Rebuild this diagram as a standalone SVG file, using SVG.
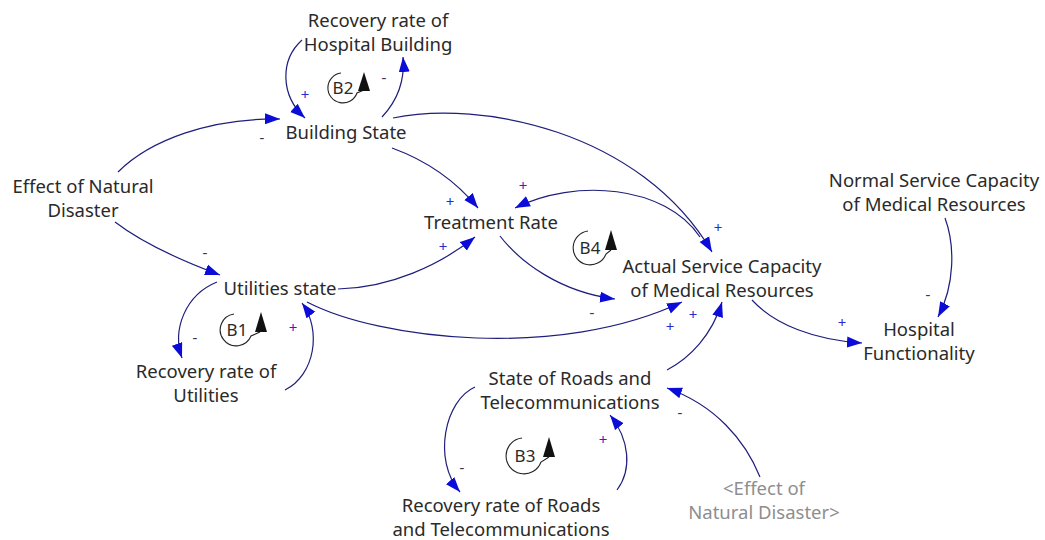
<svg xmlns="http://www.w3.org/2000/svg" width="1045" height="540" viewBox="0 0 1045 540">
<defs>
<style>
.lbl{font-family:"Noto Sans","Open Sans",sans-serif;font-size:18.5px;fill:#2a2a2a;text-anchor:middle}
.shd{fill:#8e8e8e}
.lnk{fill:none;stroke:#1e1e7c;stroke-width:1.2;marker-end:url(#ah)}
.pol{font-family:"Noto Sans","Open Sans",sans-serif;font-size:15px;text-anchor:middle}
.pos{fill:#2a2ad0}
.neg{fill:#333355}
.lp path{fill:none;stroke:#222;stroke-width:1.1}
.lp polygon{fill:#111}
.lp text{font-family:"Noto Sans","Open Sans",sans-serif;font-size:17px;fill:#2a2a2a;text-anchor:middle}
</style>
<marker id="ah" markerUnits="userSpaceOnUse" markerWidth="16" markerHeight="12" refX="15" refY="6" orient="auto">
<path d="M0,0.5 L15,6 L0,11.5 z" fill="#0c0cd8"/>
</marker>
</defs>
<rect width="1045" height="540" fill="#ffffff"/>

<g id="connectors">
<path class="lnk" d="M302,40 C280,60 280,95 305,118"/>
<path class="lnk" d="M382,117 C398,100 405,80 403,57"/>
<path class="lnk" d="M118,172 C150,140 210,118 280,119"/>
<path class="lnk" d="M392,148 C425,160 455,180 478,208"/>
<path class="lnk" d="M393,118 C480,100 640,130 712,252"/>
<path class="lnk" d="M700,237 C665,185 575,178 515,208"/>
<path class="lnk" d="M500,236 C520,262 560,292 615,299"/>
<path class="lnk" d="M338,289 C390,288 440,265 475,237"/>
<path class="lnk" d="M307,302 C380,340 560,360 682,302"/>
<path class="lnk" d="M667,370 C690,358 712,335 722,302"/>
<path class="lnk" d="M752,300 C775,325 815,340 862,343"/>
<path class="lnk" d="M945,218 C955,245 955,285 938,317"/>
<path class="lnk" d="M115,222 C145,245 185,262 220,275"/>
<path class="lnk" d="M217,282 C185,295 172,330 182,358"/>
<path class="lnk" d="M285,390 C315,375 322,330 302,303"/>
<path class="lnk" d="M475,387 C445,400 432,460 460,492"/>
<path class="lnk" d="M617,490 C632,470 630,440 610,415"/>
<path class="lnk" d="M760,477 C745,440 715,405 667,388"/>
</g>

<g id="polarities" class="pol">
<text class="pos" x="305" y="100">+</text>
<text class="neg" x="384" y="83">-</text>
<text class="neg" x="262" y="143">-</text>
<text class="pos" x="450" y="207">+</text>
<text class="pos" x="718" y="233">+</text>
<text class="pos" x="523" y="191">+</text>
<text class="neg" x="592" y="318">-</text>
<text class="pos" x="443" y="252">+</text>
<text class="pos" x="670" y="332">+</text>
<text class="pos" x="693" y="320">+</text>
<text class="pos" x="842" y="328">+</text>
<text class="neg" x="928" y="300">-</text>
<text class="neg" x="205" y="258">-</text>
<text class="neg" x="195" y="343">-</text>
<text class="pos" x="293" y="333">+</text>
<text class="neg" x="462" y="473">-</text>
<text class="pos" x="603" y="445">+</text>
<text class="neg" x="680" y="418">-</text>
</g>

<g id="loop-B2" class="lp">
<path d="M341,73 A15,15 0 1 0 357,93 L364,90"/>
<polygon points="364,72 358,91 370,91"/>
<text x="343" y="94">B2</text>
</g>
<g id="loop-B1" class="lp">
<path d="M234,314 A16,16 0 1 0 251,336 L260,332"/>
<polygon points="261,312 255,332 267,332"/>
<text x="237" y="336">B1</text>
</g>
<g id="loop-B3" class="lp">
<path d="M522,438 A18,18 0 1 0 541,462 L549,457"/>
<polygon points="549,437 543,457 555,457"/>
<text x="525" y="462">B3</text>
</g>
<g id="loop-B4" class="lp">
<path d="M588,231 A17,17 0 1 0 606,254 L611,250"/>
<polygon points="611,230 605,250 617,250"/>
<text x="590" y="254">B4</text>
</g>

<g id="node-recovery-hospital" class="lbl"><text x="378" y="27">Recovery rate of</text><text x="378" y="51">Hospital Building</text></g>
<g id="node-building-state" class="lbl"><text x="346" y="139">Building State</text></g>
<g id="node-effect-disaster" class="lbl"><text x="83" y="193">Effect of Natural</text><text x="83" y="217">Disaster</text></g>
<g id="node-treatment-rate" class="lbl"><text x="491" y="229">Treatment Rate</text></g>
<g id="node-utilities-state" class="lbl"><text x="280" y="295">Utilities state</text></g>
<g id="node-recovery-utilities" class="lbl"><text x="206" y="378">Recovery rate of</text><text x="206" y="402">Utilities</text></g>
<g id="node-actual-capacity" class="lbl"><text x="722" y="273">Actual Service Capacity</text><text x="722" y="297">of Medical Resources</text></g>
<g id="node-normal-capacity" class="lbl"><text x="934" y="187">Normal Service Capacity</text><text x="934" y="211">of Medical Resources</text></g>
<g id="node-hospital-functionality" class="lbl"><text x="919" y="336">Hospital</text><text x="919" y="360">Functionality</text></g>
<g id="node-roads-state" class="lbl"><text x="570" y="385">State of Roads and</text><text x="570" y="409">Telecommunications</text></g>
<g id="node-recovery-roads" class="lbl"><text x="501" y="512">Recovery rate of Roads</text><text x="501" y="536">and Telecommunications</text></g>
<g id="node-effect-disaster-shadow" class="lbl shd"><text x="764" y="495">&lt;Effect of</text><text x="764" y="519">Natural Disaster&gt;</text></g>
</svg>
